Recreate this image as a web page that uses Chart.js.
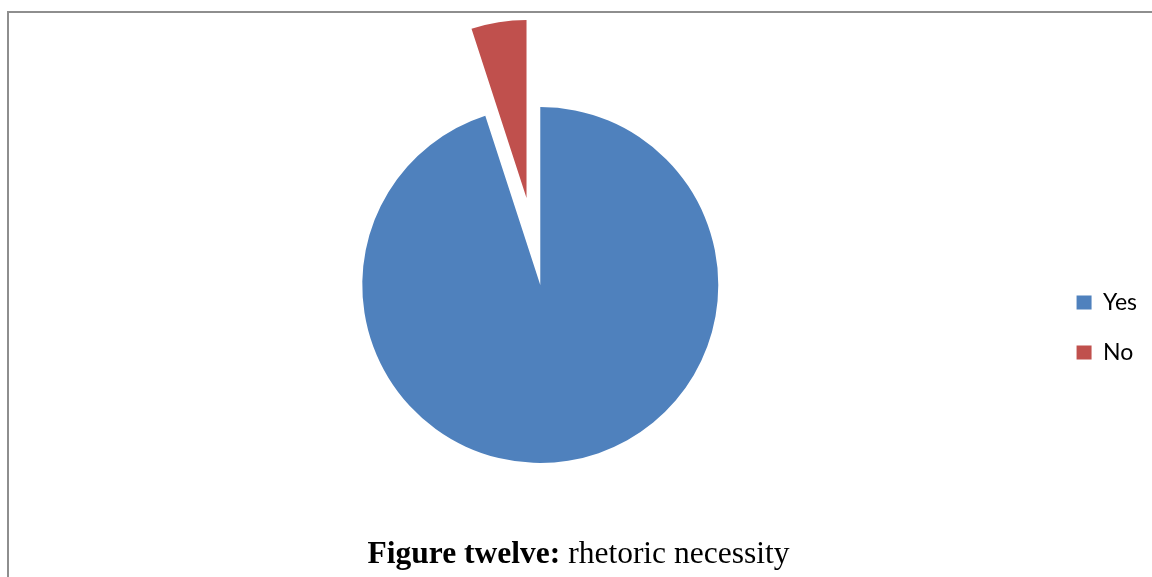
<!DOCTYPE html>
<html>
<head>
<meta charset="utf-8">
<script src="https://cdn.jsdelivr.net/npm/chart.js@4/dist/chart.umd.min.js"></script>
<style>
  html, body { margin: 0; padding: 0; background: #ffffff; }
  body { width: 1152px; height: 577px; position: relative; overflow: hidden; }
  #frame {
    position: absolute; left: 7px; top: 11px; width: 1200px; height: 600px;
    border-top: 2px solid #8e8e8e; border-left: 2px solid #8e8e8e;
  }
  #wrap { position: absolute; left: 0; top: 0; width: 1152px; height: 577px; }
  #caption {
    position: absolute; left: 0; top: 537px; width: 1157px; text-align: center;
    font-family: "Liberation Serif", "Times New Roman", serif; font-size: 31.5px;
    line-height: 31.5px; color: #000; white-space: nowrap;
  }
  #caption b { font-weight: bold; }
</style>
</head>
<body>
<div id="frame"></div>
<div id="wrap"><canvas id="chart"></canvas></div>
<div id="caption"><b>Figure twelve:</b> rhetoric necessity</div>
<script>
// Survey answers
const categories = ["Yes", "No"];
const shares = [95, 5];
const sliceColors = ["#4F81BD", "#C0504D"];
// How far each slice is pulled out of the pie (px)
const pullOut = [0, 88];

// Move a pulled-out slice's centre outward along its middle angle,
// so it keeps the same radius and angle as the rest of the pie.
const explode = {
  id: 'explode',
  afterDatasetUpdate(chart, args) {
    args.meta.data.forEach((arc, i) => {
      const shift = pullOut[i];
      if (!shift) return;
      const mid = (arc.startAngle + arc.endAngle) / 2;
      arc.x += Math.cos(mid) * shift;
      arc.y += Math.sin(mid) * shift;
    });
  }
};

new Chart(document.getElementById('chart'), {
  type: 'pie',
  data: {
    labels: categories,
    datasets: [{
      data: shares,
      backgroundColor: sliceColors,
      borderWidth: 0,
      hoverOffset: 0,
      clip: false
    }]
  },
  plugins: [explode],
  options: {
    responsive: true,
    maintainAspectRatio: false,
    animation: false,
    radius: 178,
    layout: { padding: { left: 31, right: 5, top: 179, bottom: 186 } },
    plugins: {
      tooltip: { enabled: false },
      legend: {
        position: 'right',
        align: 'end',
        labels: {
          boxWidth: 15,
          boxHeight: 14,
          padding: 27,
          color: '#000000',
          font: { family: 'Lato', size: 23 }
        }
      }
    }
  }
});
</script>
</body>
</html>
